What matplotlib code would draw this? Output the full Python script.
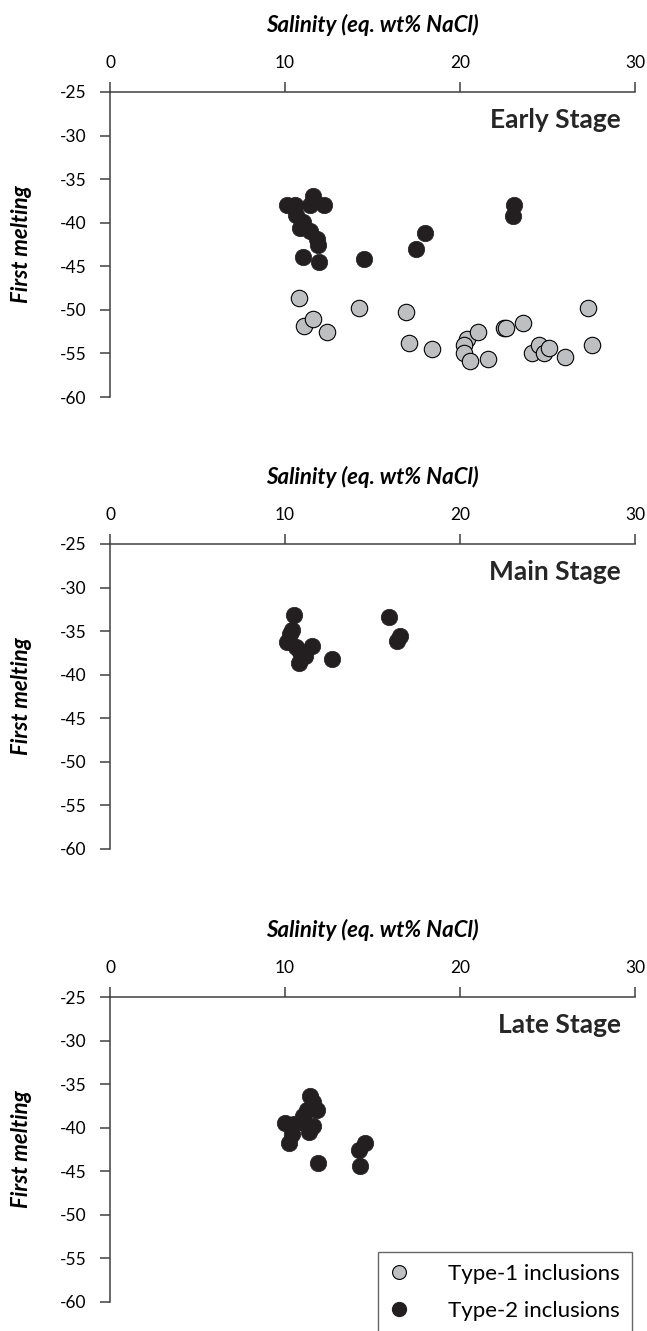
import matplotlib
matplotlib.use("Agg")
import matplotlib.pyplot as plt
from matplotlib.lines import Line2D

plt.rcParams['font.family'] = ['Lato', 'DejaVu Sans']
plt.rcParams['axes.unicode_minus'] = False

# Early stage
early_t1_x = [10.8, 11.1, 11.6, 12.4, 14.2, 16.9, 17.1, 18.4, 20.4, 20.2, 20.2, 20.55,
              21.0, 21.6, 22.5, 22.6, 23.6, 24.1, 24.5, 24.8, 25.1, 26.0, 27.3, 27.55]
early_t1_y = [-48.6, -51.9, -51.1, -52.5, -49.8, -50.3, -53.8, -54.5, -53.3, -54.0, -55.0, -55.9,
              -52.5, -55.6, -52.05, -52.05, -51.5, -55.0, -54.0, -55.0, -54.35, -55.4, -49.8, -54.0]
early_t2_x = [10.1, 10.55, 11.6, 12.2, 11.4, 10.65, 11.05, 10.85, 11.45, 11.8, 11.9, 11.0,
              11.95, 14.5, 17.5, 18.0, 23.1, 23.0]
early_t2_y = [-38.0, -38.0, -36.9, -38.0, -38.0, -39.1, -39.9, -40.6, -41.0, -41.9, -42.6, -43.9,
              -44.5, -44.2, -43.0, -41.2, -38.0, -39.2]

# Main stage
main_t2_x = [10.5, 10.4, 10.3, 10.1, 10.6, 10.85, 11.15, 10.8, 11.55, 12.7, 15.95, 16.55, 16.4]
main_t2_y = [-33.2, -34.9, -35.3, -36.2, -36.8, -37.4, -37.9, -38.7, -36.7, -38.2, -33.4, -35.6, -36.1]

# Late stage
late_t2_x = [11.45, 11.6, 11.8, 11.25, 10.0, 10.5, 10.95, 11.6, 11.35, 10.4, 10.25, 11.05,
             11.9, 14.55, 14.2, 14.3]
late_t2_y = [-36.4, -37.1, -38.0, -38.0, -39.5, -39.6, -39.35, -39.8, -40.5, -40.7, -41.8, -38.6,
             -44.0, -41.7, -42.5, -44.4]

stages = ["Early Stage", "Main Stage", "Late Stage"]
type1 = [(early_t1_x, early_t1_y), None, None]
type2 = [(early_t2_x, early_t2_y), (main_t2_x, main_t2_y), (late_t2_x, late_t2_y)]

grey = '#bebfc1'
black = '#231f20'
spine_col = '#404040'

W, H = 647, 1331
fig = plt.figure(figsize=(W / 100, H / 100), dpi=100)

tops = [92, 544, 997]
for i, top in enumerate(tops):
    left, right, h = 110, 635, 305
    ax = fig.add_axes([left / W, 1 - (top + h) / H, (right - left) / W, h / H])
    ax.set_xlim(0, 30)
    ax.set_ylim(-60, -25)
    ax.set_xticks([0, 10, 20, 30])
    ax.set_yticks(range(-60, -24, 5))
    for s in ['right', 'bottom']:
        ax.spines[s].set_visible(False)
    for s in ['top', 'left']:
        ax.spines[s].set_color(spine_col)
        ax.spines[s].set_linewidth(1.1)
    ax.xaxis.tick_top()
    ax.tick_params(axis='both', direction='out', length=7, width=1.1, color=spine_col,
                   labelsize=12.5, pad=10)
    ax.tick_params(axis='x', pad=8)
    ax.xaxis.set_label_position('top')
    ax.set_xlabel("Salinity (eq. wt% NaCl)", fontsize=16, fontweight='bold', style='italic',
                  va='center')
    ax.xaxis.set_label_coords(0.5, 1 + 67 / 305)
    ax.set_ylabel("First melting", fontsize=16, fontweight='bold', style='italic', va='center')
    ax.yaxis.set_label_coords(-88 / 525, 0.5)
    ax.patch.set_alpha(0)

    if type1[i] is not None:
        ax.scatter(type1[i][0], type1[i][1], s=140, color=grey, edgecolors='black',
                   linewidths=0.8, zorder=3)
    ax.scatter(type2[i][0], type2[i][1], s=140, color=black, edgecolors=black,
               linewidths=0.5, zorder=4)

    ax.text(29.2, -28.2, stages[i], ha='right', va='center', fontsize=19, fontweight='bold',
            color='#262626')

handles = [
    Line2D([], [], marker='o', linestyle='none', markersize=10, markerfacecolor=grey,
           markeredgecolor='black', markeredgewidth=0.8),
    Line2D([], [], marker='o', linestyle='none', markersize=10, markerfacecolor=black,
           markeredgecolor=black),
]
leg = fig.legend(handles, ["Type-1 inclusions", "Type-2 inclusions"],
                 loc='upper left', bbox_to_anchor=(378 / W, 1 - 1252 / H),
                 bbox_transform=fig.transFigure, borderaxespad=0, borderpad=0.55,
                 handlelength=0.8, handletextpad=1.8, labelspacing=0.75,
                 fontsize=16, frameon=True, fancybox=False)
leg.get_frame().set_edgecolor('#404040')
leg.get_frame().set_linewidth(1.0)

fig.savefig("out.png", dpi=100)
